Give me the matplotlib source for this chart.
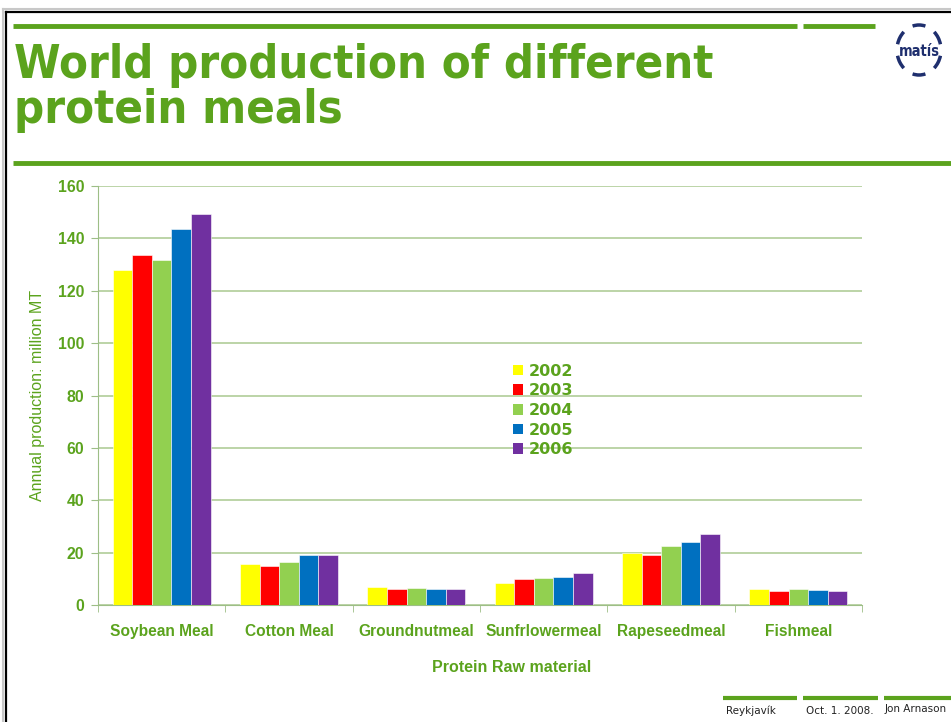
import matplotlib
matplotlib.use('Agg')
import matplotlib.pyplot as plt
from matplotlib.patches import Patch, Arc
import numpy as np

# world production of protein meals, million MT
categories = ['Soybean Meal', 'Cotton Meal', 'Groundnutmeal', 'Sunfrlowermeal', 'Rapeseedmeal', 'Fishmeal']
years = ['2002', '2003', '2004', '2005', '2006']
values = {
    '2002': [128.1, 15.6, 6.9, 8.4, 19.7, 6.1],
    '2003': [133.5, 14.8, 6.1, 9.9, 19.0, 5.3],
    '2004': [131.8, 16.4, 6.4, 10.4, 22.6, 6.1],
    '2005': [143.4, 19.2, 6.1, 10.7, 24.2, 5.8],
    '2006': [149.3, 19.1, 6.0, 12.1, 27.1, 5.3],
}
colors = ['#FFFF00', '#FF0000', '#92D050', '#0070C0', '#7030A0']
yticks = [0, 20, 40, 60, 80, 100, 120, 140, 160]

green = '#5BA31D'
W, H = 951, 722

fig = plt.figure(figsize=(W / 100, H / 100), dpi=100)

# slide decorations in pixel coordinates
deco = fig.add_axes([0, 0, 1, 1])
deco.set_xlim(0, W)
deco.set_ylim(H, 0)
deco.axis('off')

deco.plot([3, W], [9, 9], color='#c8c8c8', lw=1.5)
deco.plot([3, 3], [9, H], color='#c8c8c8', lw=1.5)
deco.plot([6, W], [12, 12], color='black', lw=1.6)
deco.plot([6, 6], [12, H], color='black', lw=1.6)

deco.plot([13, 797], [26, 26], color=green, lw=3.5, solid_capstyle='butt')
deco.plot([803, 875], [26, 26], color=green, lw=3.5, solid_capstyle='butt')
deco.plot([13, W], [163, 163], color=green, lw=3.5, solid_capstyle='butt')

title_font = dict(family='DejaVu Sans', fontstretch='condensed', fontweight='bold',
                  fontsize=33.8, color=green, va='baseline', ha='left')
deco.text(14, 78, 'World production of different', **title_font)
deco.text(14, 123, 'protein meals', **title_font)

# logo
navy = '#1F2F6E'
for t1, t2 in [(75, 105), (255, 285), (130, 165), (195, 230), (15, 50), (310, 345)]:
    deco.add_patch(Arc((919, 50), 44, 50, theta1=t1, theta2=t2, color=navy, lw=2.5))
deco.text(919, 51, 'matís', color=navy, fontsize=10.5, fontweight='bold', fontstretch='condensed',
          ha='center', va='center', family='DejaVu Sans')

# footer
for x0, x1 in [(723, 797), (803, 878), (884, W)]:
    deco.plot([x0, x1], [698, 698], color=green, lw=3, solid_capstyle='butt')
foot = dict(fontsize=7.5, color='#222222', va='center', ha='left', family='DejaVu Sans')
deco.text(726, 711, 'Reykjavík', **foot)
deco.text(806, 711, 'Oct. 1. 2008.', **foot)
deco.text(885, 709, 'Jon Arnason', **foot)

# bar chart
ax = fig.add_axes([98 / W, 117 / H, 764 / W, 419 / H])
n = len(years)
width = 1 / (n + 1.5)
x = np.arange(len(categories))
for j, (yr, c) in enumerate(zip(years, colors)):
    ax.bar(x + (j - (n - 1) / 2) * width, values[yr], width, color=c,
           edgecolor='white', linewidth=0.4, label=yr, zorder=3)

ax.set_xlim(-0.5, len(categories) - 0.5)
ax.set_ylim(0, 160)
ax.set_yticks(yticks)
ax.yaxis.grid(True, color='#A9C98F', lw=1.1, zorder=0)
ax.set_axisbelow(True)

for s in ['top', 'right']:
    ax.spines[s].set_visible(False)
ax.spines['left'].set_color('#9DBE86')
ax.spines['bottom'].set_color('#9DBE86')

ax.set_xticks(x)
ax.set_xticklabels(categories)
ax.set_xticks(np.arange(len(categories) + 1) - 0.5, minor=True)
ax.tick_params(axis='x', which='major', length=0, pad=13.4)
ax.tick_params(axis='x', which='minor', length=5, color='#9DBE86', direction='out')
ax.tick_params(axis='y', length=5, color='#9DBE86', pad=5)

for lab in ax.get_xticklabels():
    lab.set_color(green)
    lab.set_family('Liberation Sans')
    lab.set_fontweight('bold')
    lab.set_fontsize(11.2)
for lab in ax.get_yticklabels():
    lab.set_color(green)
    lab.set_family('Liberation Sans')
    lab.set_fontweight('bold')
    lab.set_fontsize(11.4)

ax.set_ylabel('Annual production: million MT', color=green, fontsize=11.5,
              family='Liberation Sans')
ax.yaxis.set_label_coords(-0.069, 0.5)
ax.set_xlabel('Protein Raw material', color=green, fontsize=11.5,
              family='Liberation Sans', fontweight='bold')
ax.xaxis.set_label_coords(0.541, -0.131)

handles = [Patch(facecolor=c, edgecolor='none') for c in colors]
leg = ax.legend(handles, years, loc='upper left', bbox_to_anchor=(0.543, 0.576),
                frameon=False, borderpad=0, borderaxespad=0, handlelength=0.65,
                handleheight=0.65, handletextpad=0.35, labelspacing=0.29,
                prop=dict(family='DejaVu Sans', weight='bold', size=11.5))
for t in leg.get_texts():
    t.set_color(green)

fig.savefig('out.png', dpi=100)
